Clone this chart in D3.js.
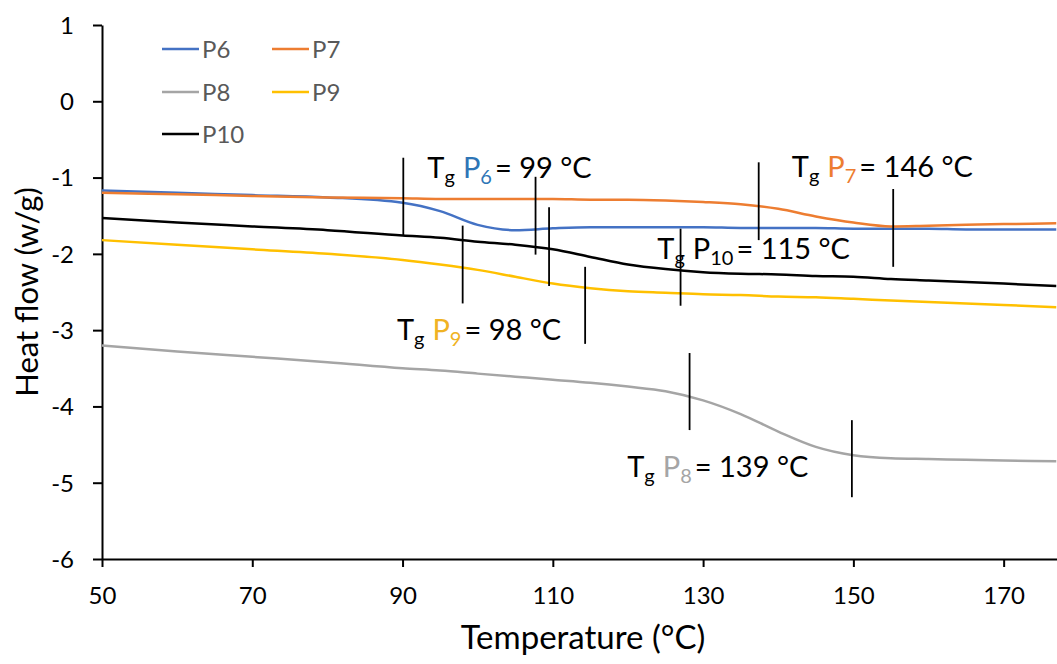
<html lang="en">
<head>
  <meta http-equiv="Content-Type" content="text/html; charset=utf-8" />
  <script src="https://d3js.org/d3.v7.min.js"></script>
  <style>
    body { margin: 0; background: #fff; }
    text { font-family: Lato, "Open Sans", sans-serif; }
  </style>
</head>
<body>
  <div id="dsc"></div>
  <script>
    // temperature grid shared by all curves (°C)
    const tempC = [50, 60, 70, 80, 90, 95, 100, 105, 110, 115, 120, 125, 130, 135, 140, 145, 150, 155, 160, 165, 170, 177];

    // heat flow (w/g)
    const p6 = [-1.17, -1.20, -1.23, -1.26, -1.33, -1.44, -1.62, -1.69, -1.665, -1.65, -1.65, -1.65, -1.65, -1.66, -1.66, -1.66, -1.67, -1.67, -1.67, -1.68, -1.68, -1.68];
    const p7 = [-1.20, -1.22, -1.24, -1.26, -1.27, -1.28, -1.28, -1.28, -1.28, -1.29, -1.29, -1.30, -1.32, -1.35, -1.41, -1.51, -1.59, -1.64, -1.63, -1.62, -1.61, -1.60];
    const p8 = [-3.20, -3.28, -3.35, -3.42, -3.50, -3.53, -3.57, -3.61, -3.65, -3.69, -3.74, -3.80, -3.92, -4.10, -4.33, -4.53, -4.64, -4.68, -4.69, -4.70, -4.71, -4.72];
    const p9 = [-1.82, -1.88, -1.94, -2.00, -2.08, -2.14, -2.21, -2.30, -2.39, -2.45, -2.49, -2.51, -2.53, -2.54, -2.56, -2.57, -2.59, -2.61, -2.63, -2.65, -2.67, -2.70];
    const p10 = [-1.53, -1.59, -1.64, -1.69, -1.76, -1.79, -1.84, -1.88, -1.94, -2.04, -2.14, -2.20, -2.24, -2.26, -2.27, -2.29, -2.30, -2.33, -2.35, -2.37, -2.39, -2.42];

    const seriesNames = ["P6", "P7", "P8", "P9", "P10"];
    const seriesValues = [p6, p7, p8, p9, p10];

    // Tg tangent marks (temperature, top, bottom in w/g)
    const markT = [90.1, 107.7, 109.5, 98.0, 114.3, 127.0, 137.4, 155.3, 128.2, 149.8];
    const markTop = [-0.74, -0.99, -1.39, -1.63, -2.17, -1.67, -0.80, -1.15, -3.30, -4.18];
    const markBottom = [-1.76, -2.01, -2.42, -2.65, -3.18, -2.68, -1.82, -2.17, -4.31, -5.19];

    // Tg annotations
    const tgSample = ["6", "7", "10", "9", "8"];
    const tgValue = [99, 146, 115, 98, 139];
    const tgAtT = [93.3, 141.8, 123.9, 89.25, 119.9];
    const tgAtH = [-1.0, -0.99, -2.07, -3.13, -4.92];

    const xTicks = [50, 70, 90, 110, 130, 150, 170];
    const yTicks = [1, 0, -1, -2, -3, -4, -5, -6];

    const lineColor = { "P6": "#4472C4", "P7": "#ED7D31", "P8": "#A5A5A5", "P9": "#FFC000", "P10": "#000000" };
    const textColor = { "6": "#2E75B6", "7": "#ED7D31", "8": "#A5A5A5", "9": "#F0B323", "10": "#000000" };

    const svgWidth = 1057, svgHeight = 664;
    const margin = { top: 25, right: 0, bottom: 105, left: 102 };

    const svg = d3.select("#dsc").append("svg")
      .attr("width", svgWidth).attr("height", svgHeight);

    const x = d3.scaleLinear().domain([50, 177.1]).range([margin.left, svgWidth - margin.right]);
    const y = d3.scaleLinear().domain([-6, 1]).range([svgHeight - margin.bottom, margin.top]);

    // axes
    const xAxis = svg.append("g")
      .attr("transform", `translate(0,${y(-6)})`)
      .call(d3.axisBottom(x).tickValues(xTicks).tickSize(8).tickPadding(20).tickSizeOuter(0));
    const yAxis = svg.append("g")
      .attr("transform", `translate(${x(50)},0)`)
      .call(d3.axisLeft(y).tickValues(yTicks).tickSize(9).tickPadding(19).tickSizeOuter(0)
        .tickFormat(d => d < 0 ? "-" + Math.abs(d) : d));
    [xAxis, yAxis].forEach(a => {
      a.select(".domain").attr("stroke", "#000").attr("stroke-width", 2);
      a.selectAll(".tick line").attr("stroke", "#000").attr("stroke-width", 2);
      a.selectAll(".tick text").attr("fill", "#000").attr("font-size", 24)
        .attr("font-family", "Lato, 'Open Sans', sans-serif");
    });
    yAxis.selectAll(".tick text").attr("dy", "0.35em");

    svg.append("text")
      .attr("x", 583).attr("y", 649)
      .attr("text-anchor", "middle").attr("font-size", 33).attr("fill", "#000")
      .text("Temperature (°C)");
    svg.append("text")
      .attr("transform", `translate(38,${(y(1) + y(-6)) / 2}) rotate(-90)`)
      .attr("text-anchor", "middle").attr("font-size", 31).attr("fill", "#000")
      .text("Heat flow (w/g)");

    // curves
    const line = d3.line().x(d => x(d[0])).y(d => y(d[1])).curve(d3.curveMonotoneX);
    seriesNames.forEach((name, i) => {
      svg.append("path")
        .datum(tempC.map((t, j) => [t, seriesValues[i][j]]))
        .attr("fill", "none").attr("stroke", lineColor[name]).attr("stroke-width", 2.5)
        .attr("d", line);
    });

    // tangent marks
    markT.forEach((t, i) => {
      svg.append("line")
        .attr("x1", x(t)).attr("x2", x(t))
        .attr("y1", y(markTop[i])).attr("y2", y(markBottom[i]))
        .attr("stroke", "#000").attr("stroke-width", 1.8);
    });

    // Tg labels
    tgSample.forEach((s, i) => {
      const t = svg.append("text")
        .attr("x", x(tgAtT[i])).attr("y", y(tgAtH[i]))
        .attr("font-size", 29).attr("fill", "#000");
      t.append("tspan").text("T");
      t.append("tspan").attr("font-size", 20).attr("dy", 6).text("g");
      t.append("tspan").attr("dx", 8).attr("dy", -6).attr("fill", textColor[s]).text("P");
      t.append("tspan").attr("font-size", 20).attr("dy", 6).attr("fill", textColor[s]).text(s);
      t.append("tspan").attr("dx", 3).attr("dy", -6).text(`= ${tgValue[i]} °C`);
    });

    // legend
    const legendCol = [162, 272];
    const legendRow = [49, 92, 134];
    seriesNames.forEach((name, i) => {
      const lx = legendCol[i % 2], ly = legendRow[Math.floor(i / 2)];
      svg.append("line")
        .attr("x1", lx).attr("x2", lx + 37).attr("y1", ly).attr("y2", ly)
        .attr("stroke", lineColor[name]).attr("stroke-width", 2.5);
      svg.append("text")
        .attr("x", lx + 40).attr("y", ly).attr("dy", "0.36em")
        .attr("font-size", 24).attr("fill", "#595959").text(name);
    });
  </script>
</body>
</html>
